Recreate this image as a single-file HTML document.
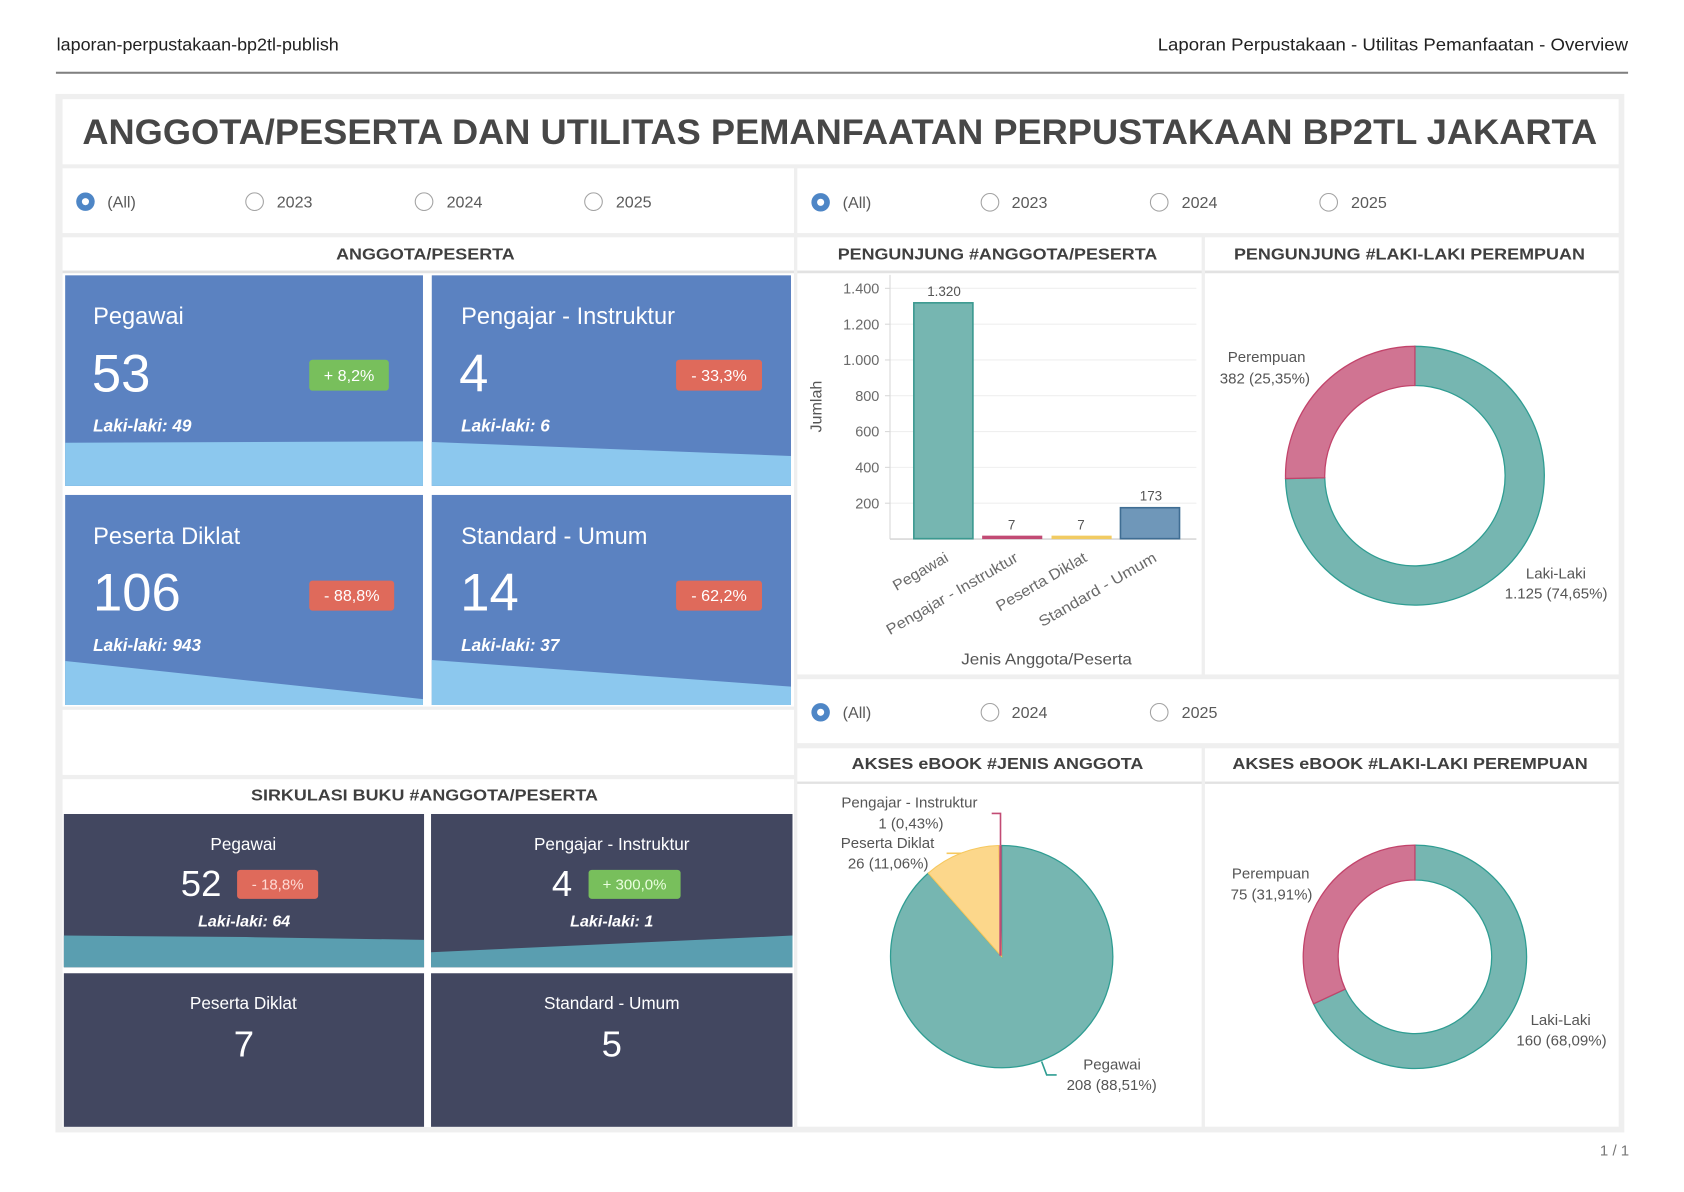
<!DOCTYPE html>
<html><head><meta charset="utf-8"><style>
html,body{margin:0;padding:0;background:#fff;width:1684px;height:1192px;overflow:hidden}
svg{display:block}
text{font-family:"Liberation Sans",Arial,sans-serif}
</style></head><body>
<svg width="1684" height="1192" viewBox="0 0 1568 1110" xmlns="http://www.w3.org/2000/svg">
<rect width="1568" height="1110" fill="#fff"/>
<!-- page header -->
<text x="52.7" y="47.2" font-size="16" fill="#222" textLength="262.7" lengthAdjust="spacingAndGlyphs">laporan-perpustakaan-bp2tl-publish</text>
<text x="1078" y="47.2" font-size="16" fill="#222" textLength="438" lengthAdjust="spacingAndGlyphs">Laporan Perpustakaan  -  Utilitas Pemanfaatan  -  Overview</text>
<rect x="52" y="66.8" width="1464" height="1.9" fill="#808080"/>

<!-- outer panel -->
<rect x="51.5" y="87.5" width="1461" height="967" fill="#efefef"/>

<!-- title -->
<rect x="58.2" y="92.4" width="1449" height="60.6" fill="#fff"/>
<text x="76.6" y="134.1" font-size="33" font-weight="bold" fill="#474747" textLength="1410.6" lengthAdjust="spacingAndGlyphs">ANGGOTA/PESERTA DAN UTILITAS PEMANFAATAN PERPUSTAKAAN BP2TL JAKARTA</text>

<!-- filter rows -->
<rect x="58.2" y="156.7" width="681.1" height="60.3" fill="#fff"/>
<rect x="742.4" y="156.7" width="764.9" height="60.3" fill="#fff"/>
<rect x="742.4" y="632.5" width="764.9" height="59.5" fill="#fff"/>
<g font-size="15" fill="#5a5a5a">
  <circle cx="79.5" cy="187.8" r="8.6" fill="#4e86c6"/><circle cx="79.5" cy="187.8" r="3.3" fill="#fff"/>
  <text x="99.8" y="193">(All)</text>
  <circle cx="237" cy="187.8" r="8.2" fill="none" stroke="#a3a3a3" stroke-width="1"/><text x="257.6" y="193">2023</text>
  <circle cx="394.8" cy="187.8" r="8.2" fill="none" stroke="#a3a3a3" stroke-width="1"/><text x="415.8" y="193">2024</text>
  <circle cx="552.6" cy="187.8" r="8.2" fill="none" stroke="#a3a3a3" stroke-width="1"/><text x="573.4" y="193">2025</text>

  <circle cx="764.1" cy="188.4" r="8.6" fill="#4e86c6"/><circle cx="764.1" cy="188.4" r="3.3" fill="#fff"/>
  <text x="784.6" y="193.6">(All)</text>
  <circle cx="921.8" cy="188.4" r="8.2" fill="none" stroke="#a3a3a3" stroke-width="1"/><text x="942" y="193.6">2023</text>
  <circle cx="1079.4" cy="188.4" r="8.2" fill="none" stroke="#a3a3a3" stroke-width="1"/><text x="1100.3" y="193.6">2024</text>
  <circle cx="1237.2" cy="188.4" r="8.2" fill="none" stroke="#a3a3a3" stroke-width="1"/><text x="1258" y="193.6">2025</text>

  <circle cx="764.1" cy="663.3" r="8.6" fill="#4e86c6"/><circle cx="764.1" cy="663.3" r="3.3" fill="#fff"/>
  <text x="784.6" y="668.5">(All)</text>
  <circle cx="921.8" cy="663.3" r="8.2" fill="none" stroke="#a3a3a3" stroke-width="1"/><text x="942" y="668.5">2024</text>
  <circle cx="1079.4" cy="663.3" r="8.2" fill="none" stroke="#a3a3a3" stroke-width="1"/><text x="1100.3" y="668.5">2025</text>
</g>

<!-- section headers -->
<g fill="#fff">
  <rect x="58.2" y="221" width="681.1" height="31"/>
  <rect x="742.4" y="221" width="376.5" height="31"/>
  <rect x="1122" y="221" width="385.3" height="31"/>
  <rect x="58.2" y="725.6" width="681.1" height="31"/>
  <rect x="742.4" y="696.8" width="376.5" height="31"/>
  <rect x="1122" y="696.8" width="385.3" height="31"/>
</g>
<g fill="#e2e2e2">
  <rect x="58.2" y="252" width="681.1" height="2.5"/>
  <rect x="742.4" y="252" width="376.5" height="2.5"/>
  <rect x="1122" y="252" width="385.3" height="2.5"/>
  <rect x="742.4" y="727.8" width="376.5" height="2.2"/>
  <rect x="1122" y="727.8" width="385.3" height="2.2"/>
</g>
<g font-size="15" font-weight="bold" fill="#3f3f3f">
  <text x="312.9" y="241.8" textLength="166.4" lengthAdjust="spacingAndGlyphs">ANGGOTA/PESERTA</text>
  <text x="780" y="241.8" textLength="297.6" lengthAdjust="spacingAndGlyphs">PENGUNJUNG #ANGGOTA/PESERTA</text>
  <text x="1149" y="241.8" textLength="326.8" lengthAdjust="spacingAndGlyphs">PENGUNJUNG #LAKI-LAKI PEREMPUAN</text>
  <text x="233.7" y="745.6" textLength="323.1" lengthAdjust="spacingAndGlyphs">SIRKULASI BUKU #ANGGOTA/PESERTA</text>
  <text x="793" y="716" textLength="271.6" lengthAdjust="spacingAndGlyphs">AKSES eBOOK #JENIS ANGGOTA</text>
  <text x="1147.5" y="716" textLength="331" lengthAdjust="spacingAndGlyphs">AKSES eBOOK #LAKI-LAKI PEREMPUAN</text>
</g>

<!-- left column panels -->
<rect x="58.2" y="254.5" width="681.1" height="403.5" fill="#fff"/>
<rect x="58.2" y="661" width="681.1" height="60.6" fill="#fff"/>
<rect x="58.2" y="756.7" width="681.1" height="292.8" fill="#fff"/>

<!-- blue KPI tiles -->
<g fill="#5b82c1">
  <rect x="60.6" y="256.4" width="333.2" height="196.1"/>
  <rect x="402" y="256.4" width="334.5" height="196.1"/>
  <rect x="60.6" y="460.9" width="333.2" height="195.6"/>
  <rect x="402" y="460.9" width="334.5" height="195.6"/>
</g>
<g fill="#8cc8ee">
  <polygon points="60.6,412.3 393.8,411 393.8,452.5 60.6,452.5"/>
  <polygon points="402,411.6 736.5,424.6 736.5,452.5 402,452.5"/>
  <polygon points="60.6,615.5 393.8,651 393.8,656.5 60.6,656.5"/>
  <polygon points="402,614.6 736.5,639.4 736.5,656.5 402,656.5"/>
</g>
<g fill="#fff">
  <text x="86.7" y="301.7" font-size="22">Pegawai</text>
  <text x="85.5" y="364.7" font-size="49">53</text>
  <text x="86.7" y="402" font-size="16" font-weight="bold" font-style="italic">Laki-laki: 49</text>
  <text x="429.3" y="301.7" font-size="22">Pengajar - Instruktur</text>
  <text x="427.5" y="364.7" font-size="49">4</text>
  <text x="429.3" y="402" font-size="16" font-weight="bold" font-style="italic">Laki-laki: 6</text>
  <text x="86.7" y="506.5" font-size="22">Peserta Diklat</text>
  <text x="86.5" y="568.6" font-size="49">106</text>
  <text x="86.7" y="606" font-size="16" font-weight="bold" font-style="italic">Laki-laki: 943</text>
  <text x="429.3" y="506.5" font-size="22">Standard - Umum</text>
  <text x="428.5" y="568.6" font-size="49">14</text>
  <text x="429.3" y="606" font-size="16" font-weight="bold" font-style="italic">Laki-laki: 37</text>
</g>
<rect x="287.9" y="335" width="74.1" height="28.8" rx="3" fill="#78bf5c"/>
<rect x="629.5" y="335" width="80" height="28.8" rx="3" fill="#df6a5b"/>
<rect x="287.9" y="540.7" width="79.1" height="27.9" rx="3" fill="#df6a5b"/>
<rect x="629.5" y="540.7" width="80" height="27.9" rx="3" fill="#df6a5b"/>
<g fill="#fff" font-size="15" text-anchor="middle">
  <text x="325" y="354.6">+ 8,2%</text>
  <text x="669.5" y="354.6">- 33,3%</text>
  <text x="327.5" y="559.8">- 88,8%</text>
  <text x="669.5" y="559.8">- 62,2%</text>
</g>

<!-- dark sirkulasi tiles -->
<g fill="#424760">
  <rect x="59.4" y="758" width="335.4" height="142.7"/>
  <rect x="401.3" y="758" width="336.6" height="142.7"/>
  <rect x="59.4" y="906.3" width="335.4" height="143"/>
  <rect x="401.3" y="906.3" width="336.6" height="143"/>
</g>
<g fill="#5a9eb0">
  <polygon points="59.4,871.2 229,872.6 394.8,875.2 394.8,900.7 59.4,900.7"/>
  <polygon points="401.3,886.7 737.9,871.2 737.9,900.7 401.3,900.7"/>
</g>
<rect x="220.7" y="810" width="75.5" height="27" rx="3" fill="#df6a5b"/>
<rect x="548" y="810" width="85.7" height="27" rx="3" fill="#78bf5c"/>
<g fill="#fff" text-anchor="middle">
  <text x="226.5" y="791.4" font-size="16">Pegawai</text>
  <text x="569.6" y="791.4" font-size="16">Pengajar - Instruktur</text>
  <text x="187.2" y="834.3" font-size="34">52</text>
  <text x="523.3" y="834.3" font-size="34">4</text>
  <text x="227.3" y="862.8" font-size="15" font-weight="bold" font-style="italic">Laki-laki: 64</text>
  <text x="569.6" y="862.8" font-size="15" font-weight="bold" font-style="italic">Laki-laki: 1</text>
  <text x="226.5" y="939.8" font-size="16">Peserta Diklat</text>
  <text x="569.6" y="939.8" font-size="16">Standard - Umum</text>
  <text x="227" y="983.9" font-size="34">7</text>
  <text x="569.6" y="983.9" font-size="34">5</text>
</g>
<g text-anchor="middle" font-size="14">
  <text x="258.5" y="828.5" fill="#ffd9d3">- 18,8%</text>
  <text x="590.8" y="828.5" fill="#eaffdf">+ 300,0%</text>
</g>

<!-- right column chart panels -->
<g fill="#fff">
  <rect x="742.4" y="254.5" width="376.5" height="373.5"/>
  <rect x="1122" y="254.5" width="385.3" height="373.5"/>
  <rect x="742.4" y="730" width="376.5" height="319.2"/>
  <rect x="1122" y="730" width="385.3" height="319.2"/>
</g>

<!-- bar chart -->
<g stroke="#efefef" stroke-width="1">
  <line x1="828.7" y1="268.5" x2="1114" y2="268.5"/>
  <line x1="828.7" y1="301.9" x2="1114" y2="301.9"/>
  <line x1="828.7" y1="335.2" x2="1114" y2="335.2"/>
  <line x1="828.7" y1="368.5" x2="1114" y2="368.5"/>
  <line x1="828.7" y1="401.9" x2="1114" y2="401.9"/>
  <line x1="828.7" y1="435.2" x2="1114" y2="435.2"/>
  <line x1="828.7" y1="468.6" x2="1114" y2="468.6"/>
</g>
<g stroke="#d8d8d8" stroke-width="1">
  <line x1="824" y1="268.5" x2="828.7" y2="268.5"/>
  <line x1="824" y1="301.9" x2="828.7" y2="301.9"/>
  <line x1="824" y1="335.2" x2="828.7" y2="335.2"/>
  <line x1="824" y1="368.5" x2="828.7" y2="368.5"/>
  <line x1="824" y1="401.9" x2="828.7" y2="401.9"/>
  <line x1="824" y1="435.2" x2="828.7" y2="435.2"/>
  <line x1="824" y1="468.6" x2="828.7" y2="468.6"/>
  <line x1="828.7" y1="256" x2="828.7" y2="502"/>
  <line x1="828.7" y1="502" x2="1114" y2="502" stroke-width="1.5"/>
</g>
<g font-size="13.5" fill="#6a6a6a" text-anchor="end">
  <text x="818.8" y="273.3">1.400</text>
  <text x="818.8" y="306.7">1.200</text>
  <text x="818.8" y="340">1.000</text>
  <text x="818.8" y="373.3">800</text>
  <text x="818.8" y="406.7">600</text>
  <text x="818.8" y="440">400</text>
  <text x="818.8" y="473.4">200</text>
</g>
<rect x="850.9" y="282" width="55" height="219.6" fill="#76b6b1" stroke="#3b9990" stroke-width="1.5"/>
<rect x="915" y="499.3" width="55" height="2.2" fill="#c24b74" stroke="#c24b74" stroke-width="1"/>
<rect x="979.6" y="499.3" width="55" height="2.2" fill="#f1cb62" stroke="#f1cb62" stroke-width="1"/>
<rect x="1043.3" y="472.8" width="55" height="28.8" fill="#6f97b9" stroke="#3f6d93" stroke-width="1.5"/>
<g font-size="12.5" fill="#555" text-anchor="middle">
  <text x="879" y="275.5">1.320</text>
  <text x="942" y="493.3">7</text>
  <text x="1006.5" y="493.3">7</text>
  <text x="1071.7" y="466">173</text>
</g>
<text transform="translate(765,378.6) rotate(-90)" text-anchor="middle" font-size="15" fill="#555">Jumlah</text>
<g font-size="14" fill="#6a6a6a" text-anchor="end">
  <text transform="translate(884,522) rotate(-30)" textLength="57" lengthAdjust="spacingAndGlyphs">Pegawai</text>
  <text transform="translate(949,522) rotate(-30)" textLength="139" lengthAdjust="spacingAndGlyphs">Pengajar - Instruktur</text>
  <text transform="translate(1013,522) rotate(-30)" textLength="95" lengthAdjust="spacingAndGlyphs">Peserta Diklat</text>
  <text transform="translate(1078,522) rotate(-30)" textLength="124" lengthAdjust="spacingAndGlyphs">Standard - Umum</text>
</g>
<text x="974.5" y="619" text-anchor="middle" font-size="15" fill="#555" textLength="159" lengthAdjust="spacingAndGlyphs">Jenis Anggota/Peserta</text>

<!-- donut 1 -->
<path d="M 1317.5,322.5 A 120.5 120.5 0 1 1 1197.03,445.65 L 1233.52,444.85 A 84 84 0 1 0 1317.5,359 Z" fill="#76b6b1" stroke="#2f9d92" stroke-width="1.2"/>
<path d="M 1197.03,445.65 A 120.5 120.5 0 0 1 1317.5,322.5 L 1317.5,359 A 84 84 0 0 0 1233.52,444.85 Z" fill="#d07492" stroke="#c2446b" stroke-width="1.2"/>
<g font-size="14" fill="#555" text-anchor="middle">
  <text x="1179.4" y="337">Perempuan</text>
  <text x="1177.8" y="357.2">382 (25,35%)</text>
  <text x="1448.8" y="538.7">Laki-Laki</text>
  <text x="1449" y="557.4">1.125 (74,65%)</text>
</g>

<!-- pie -->
<path d="M 932.7,890.8 L 932.7,787.3 A 103.5 103.5 0 1 1 864.32,813.1 Z" fill="#76b6b1" stroke="#2f9d92" stroke-width="1.2"/>
<path d="M 932.7,890.8 L 864.32,813.1 A 103.5 103.5 0 0 1 929.9,787.34 Z" fill="#fcd78b" stroke="#f6c85e" stroke-width="1"/>
<line x1="931.6" y1="890" x2="931.6" y2="787" stroke="#c24b74" stroke-width="2.2"/>
<polyline points="931.6,787 931.6,757.5 923.4,757.5" fill="none" stroke="#c24b74" stroke-width="1.5"/>
<line x1="895" y1="794.6" x2="881.4" y2="794.6" stroke="#f6c85e" stroke-width="1.5"/>
<polyline points="969.9,988.5 974.6,1001 983.9,1001" fill="none" stroke="#2f9d92" stroke-width="1.5"/>
<g font-size="14" fill="#555" text-anchor="middle">
  <text x="846.8" y="752">Pengajar - Instruktur</text>
  <text x="848.2" y="771.6">1 (0,43%)</text>
  <text x="826.4" y="789.6">Peserta Diklat</text>
  <text x="827" y="808.8">26 (11,06%)</text>
  <text x="1035.5" y="996">Pegawai</text>
  <text x="1035.1" y="1015.2">208 (88,51%)</text>
</g>

<!-- donut 2 -->
<path d="M 1317.5,787 A 104 104 0 1 1 1223.15,934.75 L 1252.64,921.08 A 71.5 71.5 0 1 0 1317.5,819.5 Z" fill="#76b6b1" stroke="#2f9d92" stroke-width="1.2"/>
<path d="M 1223.15,934.75 A 104 104 0 0 1 1317.5,787 L 1317.5,819.5 A 71.5 71.5 0 0 0 1252.64,921.08 Z" fill="#d07492" stroke="#c2446b" stroke-width="1.2"/>
<g font-size="14" fill="#555" text-anchor="middle">
  <text x="1183.2" y="818.2">Perempuan</text>
  <text x="1184" y="837.4">75 (31,91%)</text>
  <text x="1453.2" y="954.7">Laki-Laki</text>
  <text x="1454" y="973.4">160 (68,09%)</text>
</g>

<!-- footer -->
<text x="1517" y="1076" text-anchor="end" font-size="14" fill="#777">1 / 1</text>
</svg>
</body></html>
